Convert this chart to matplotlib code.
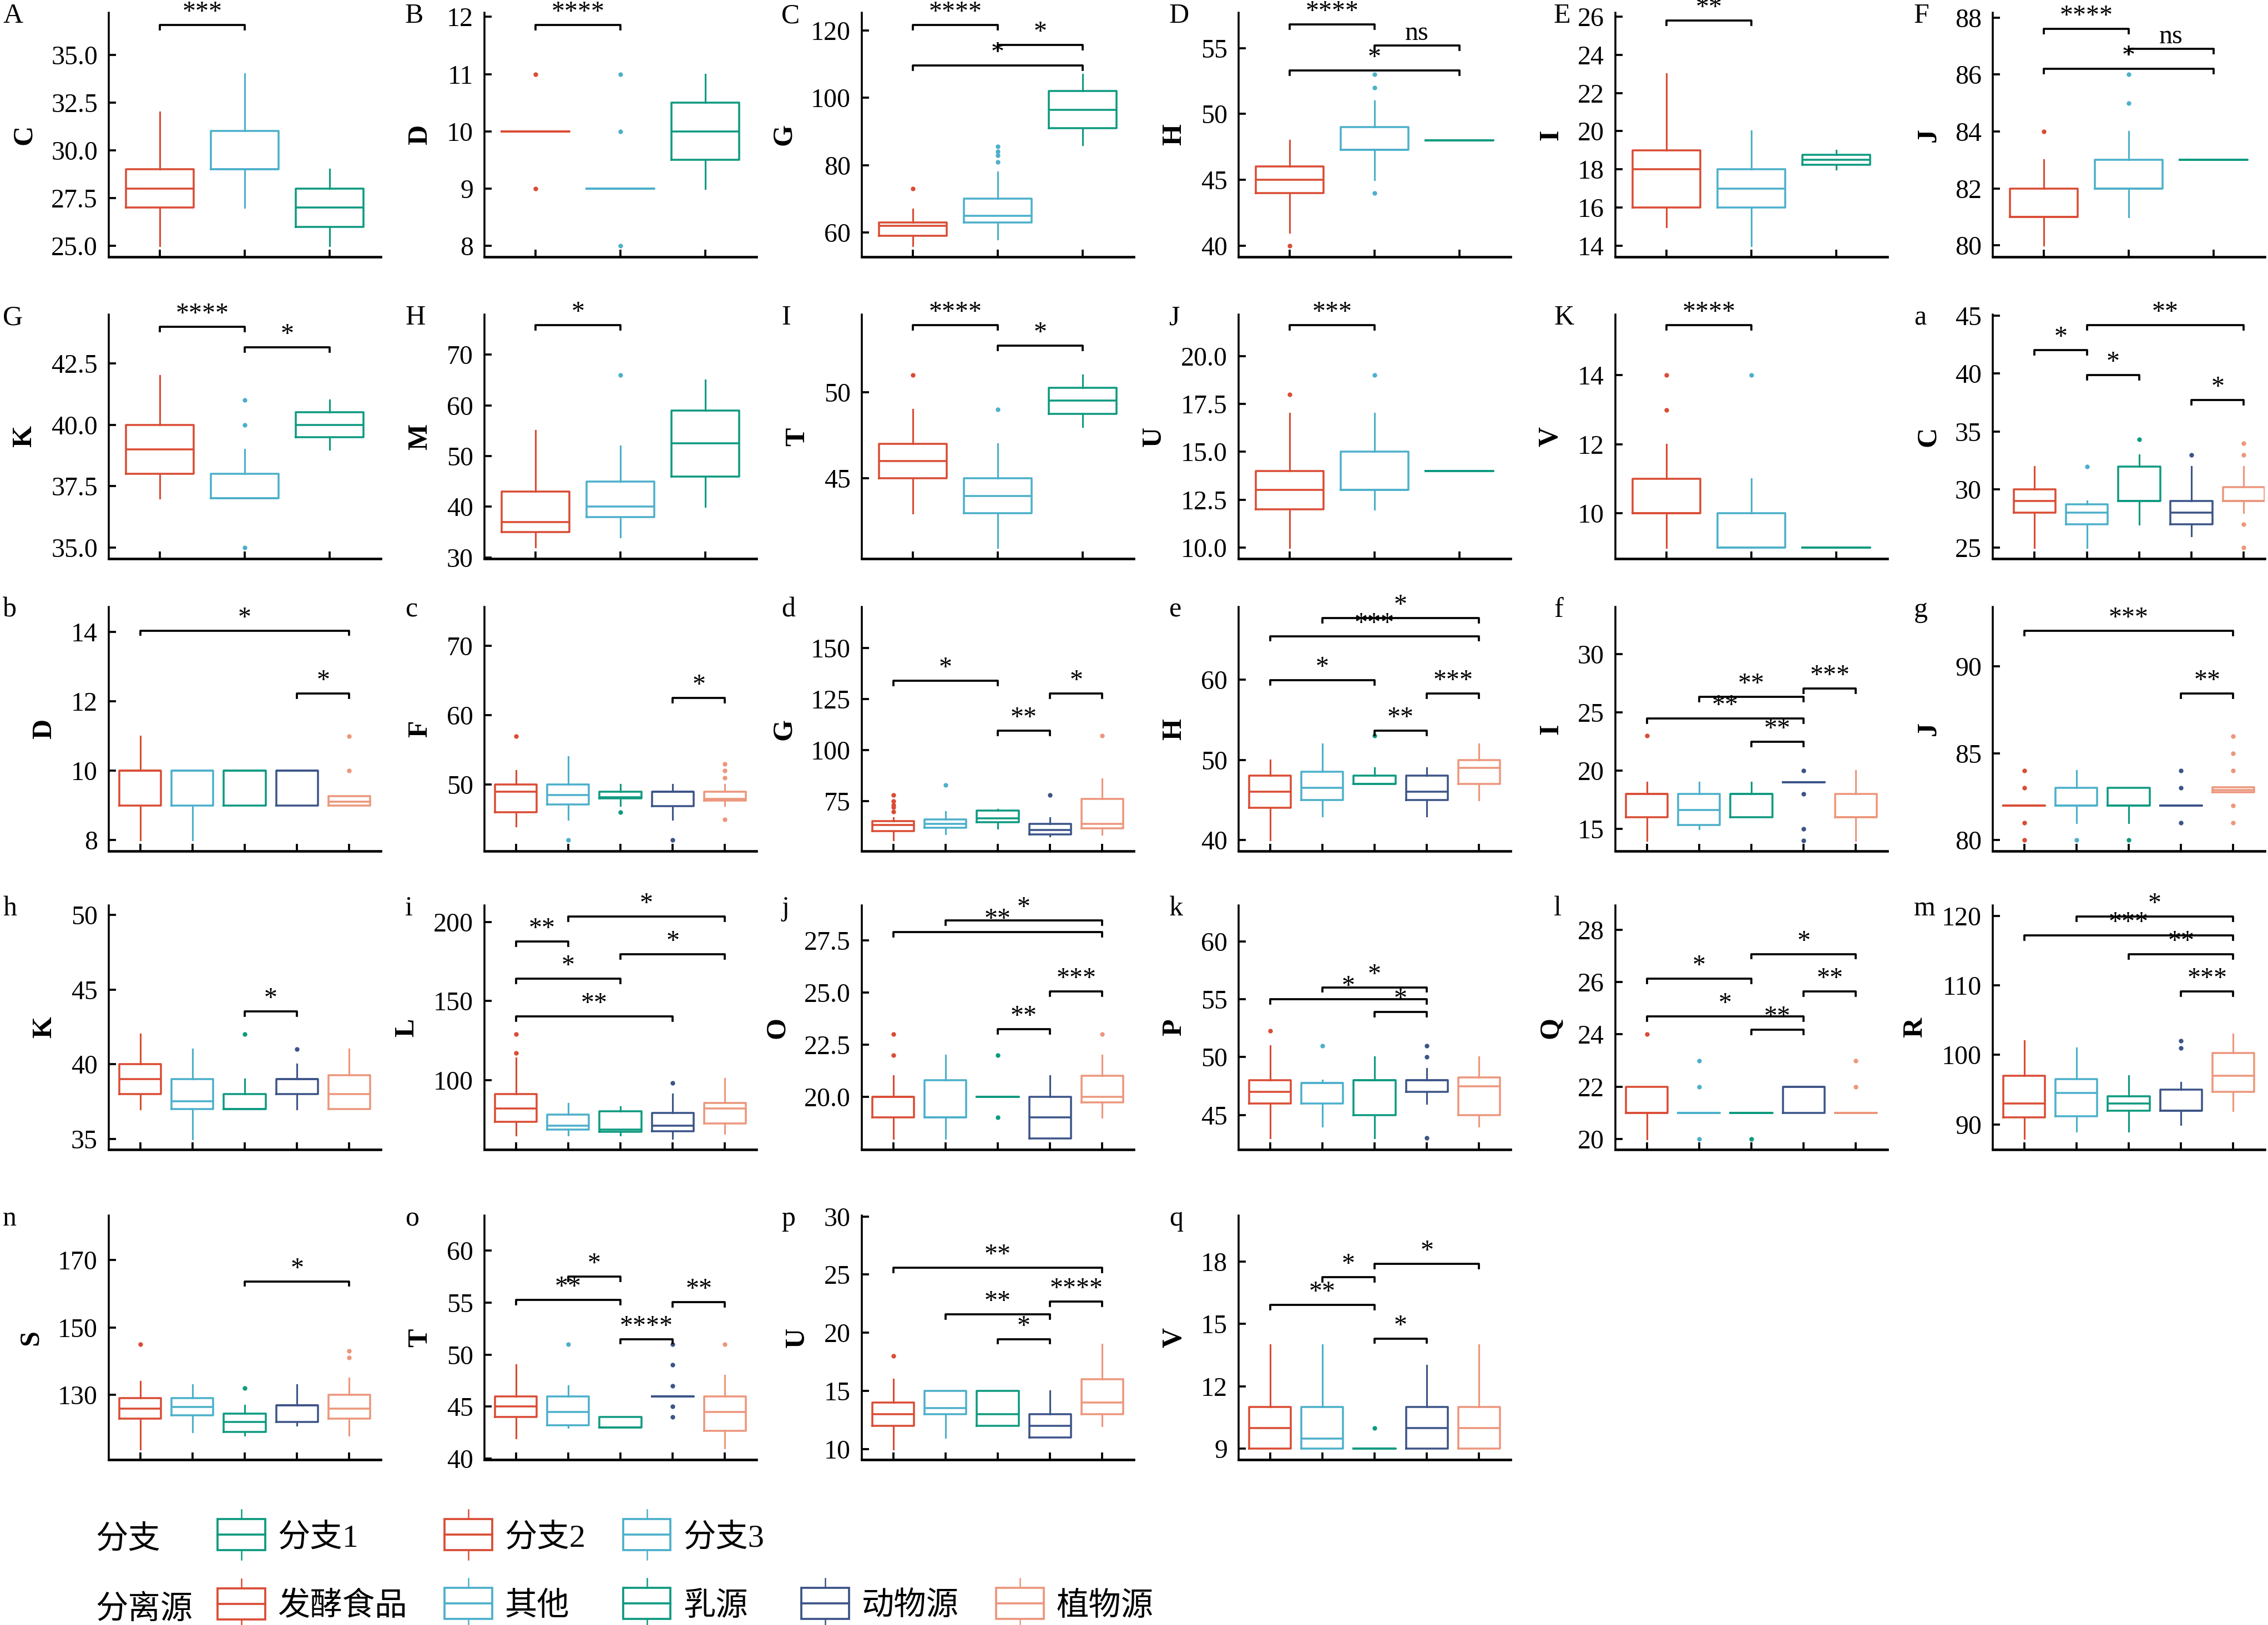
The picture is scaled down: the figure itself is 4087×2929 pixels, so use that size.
import matplotlib
matplotlib.use("Agg")
import matplotlib.pyplot as plt
from matplotlib.patches import Patch, Rectangle
from matplotlib.lines import Line2D
from matplotlib.legend_handler import HandlerBase

plt.rcParams['font.family'] = ['Liberation Serif', 'Noto Sans CJK SC']

# ====================== DATA ======================
# box stats per group: (whisker low, q1, median, q3, whisker high, [outliers])
# 3-group panels: 分支2, 分支3, 分支1 ; 5-group panels: 发酵食品, 其他, 乳源, 动物源, 植物源
box_A = [(25, 27, 28, 29, 32, []), (27, 29, 29, 31, 34, []), (25, 26, 27, 28, 29, [])]
box_B = [(10, 10, 10, 10, 10, [11, 9]), (9, 9, 9, 9, 9, [11, 10, 8]), (9, 9.5, 10, 10.5, 11, [])]
box_C = [(56, 59, 62, 63, 67, [73]), (58, 63, 65, 70, 78, [81, 83, 84, 85.5]), (86, 91, 96.5, 102, 107, [])]
box_D = [(41, 44, 45, 46, 48, [40]), (45, 47.3, 47.3, 49, 51, [44, 52, 53]), (48, 48, 48, 48, 48, [])]
box_E = [(15, 16, 18, 19, 23, []), (14, 16, 17, 18, 20, []), (18, 18.25, 18.5, 18.75, 19, [])]
box_F = [(80, 81, 81, 82, 83, [84]), (81, 82, 82, 83, 84, [85, 86]), (83, 83, 83, 83, 83, [])]
box_G = [(37, 38, 39, 40, 42, []), (37, 37, 37, 38, 39, [41, 40, 35]), (39, 39.5, 40, 40.5, 41, [])]
box_H = [(32, 35, 37, 43, 55, []), (34, 38, 40, 45, 52, [66]), (40, 46, 52.5, 59, 65, [])]
box_I = [(43, 45, 46, 47, 49, [51]), (41, 43, 44, 45, 47, [49]), (48, 48.75, 49.5, 50.25, 51, [])]
box_J = [(10, 12, 13, 14, 17, [18]), (12, 13, 13, 15, 17, [19]), (14, 14, 14, 14, 14, [])]
box_K = [(9, 10, 10, 11, 12, [13, 14]), (9, 9, 9, 10, 11, [14]), (9, 9, 9, 9, 9, [])]
box_a = [(25, 28, 29, 30, 32, []), (25, 27, 28, 28.75, 29, [32]), (27, 29, 29, 32, 33, [34.3]),
         (26, 27, 28, 29, 32, [33]), (28, 29, 29, 30.2, 32, [34, 33, 27, 25])]
box_b = [(8, 9, 10, 10, 11, []), (8, 9, 10, 10, 10, []), (9, 9, 10, 10, 10, []),
         (9, 9, 10, 10, 10, []), (9, 9, 9.1, 9.27, 9.27, [10, 11])]
box_c = [(44, 46, 49, 50, 52, [57]), (45, 47.15, 48.5, 50, 54, [42]), (47, 48, 48.2, 49, 50, [46]),
         (45, 46.9, 49, 49, 50, [42]), (47, 47.7, 47.9, 49, 50, [51, 52, 53, 45])]
box_d = [(56, 60.3, 63.3, 65.3, 67, [70, 72, 73, 75, 78]), (59, 62, 63.8, 66, 70, [83]),
         (61.7, 64.6, 66.5, 70.3, 71, []), (58, 58.8, 61, 64, 67, [78]),
         (58.8, 61.7, 63.8, 76, 86, [107])]
box_e = [(40, 44, 46, 48, 50, []), (43, 45, 46.5, 48.5, 52, []), (47, 47, 47, 48, 49, [53]),
         (43, 45, 46, 48, 49, []), (45, 47, 49, 50, 52, [])]
box_f = [(14, 16, 18, 18, 19, [23]), (15, 15.3, 16.6, 18, 19, []), (16, 16, 18, 18, 19, []),
         (19, 19, 19, 19, 19, [20, 18, 15, 14]), (14, 16, 16, 18, 20, [])]
box_g = [(82, 82, 82, 82, 82, [84, 83, 81, 80]), (81, 82, 82, 83, 84, [80]), (81, 82, 82, 83, 83, [80]),
         (82, 82, 82, 82, 82, [84, 83, 81]), (82.75, 82.75, 82.9, 83.05, 83.05, [86, 85, 84, 82, 81])]
box_h = [(37, 38, 39, 40, 42, []), (35, 37, 37.5, 39, 41, []), (37, 37, 37, 38, 39, [42]),
         (37, 38, 39, 39, 40, [41]), (37, 37, 38, 39.25, 41, [])]
box_i = [(65, 73.6, 82, 91, 114, [117, 129]), (65, 68.5, 71, 78, 85, []), (65, 67, 68.5, 80, 83, []),
         (63, 67.6, 71, 79, 91, [98]), (66, 72.4, 82, 85.3, 101, [])]
box_j = [(18, 19, 20, 20, 21, [22, 23]), (18, 19, 19, 20.8, 22, []), (20, 20, 20, 20, 20, [22, 19]),
         (18, 18, 19, 20, 21, []), (19, 19.73, 20, 21, 22, [23])]
box_k = [(43, 46, 47, 48, 51, [52.3]), (44, 46, 47.75, 47.75, 48, [51]), (43, 45, 48, 48, 50, []),
         (46, 47, 48, 48, 49, [50, 51, 43]), (44, 45, 47.5, 48.25, 50, [])]
box_l = [(20, 21, 21, 22, 22, [24]), (21, 21, 21, 21, 21, [23, 22, 20]), (21, 21, 21, 21, 21, [20]),
         (21, 21, 22, 22, 22, []), (21, 21, 21, 21, 21, [23, 22])]
box_m = [(88, 91, 93, 97, 102, []), (89, 91.2, 94.5, 96.5, 101, []), (89, 92, 93, 94, 97, []),
         (90, 92, 92, 95, 96, [101, 102]), (92, 94.7, 97, 100.3, 103, [])]
box_n = [(114, 123, 126, 129, 134, [145]), (119, 124, 126.5, 129, 133, []), (118, 119, 122, 124.5, 127, [132]),
         (121, 122, 127, 127, 133, []), (118, 123, 126, 130, 135, [141, 143])]
box_o = [(42, 44, 45, 46, 49, []), (43, 43.2, 44.5, 46, 47, [51]), (43, 43, 43, 44, 44, []),
         (46, 46, 46, 46, 46, [51, 49, 47, 45, 44]), (41, 42.7, 44.5, 46, 48, [51])]
box_p = [(10, 12, 13, 14, 16, [18]), (11, 13, 13.5, 15, 15, []), (12, 12, 13, 15, 15, []),
         (11, 11, 12, 13, 15, []), (12, 13, 14, 16, 19, [])]
box_q = [(9, 9, 10, 11, 14, []), (9, 9, 9.5, 11, 14, []), (9, 9, 9, 9, 9, [10]),
         (9, 9, 10, 11, 13, []), (9, 9, 10, 11, 14, [])]

# significance brackets: (group i, group j, bracket height, label)
sig_A = [(0, 1, 36.57, '***')]
sig_B = [(0, 1, 11.86, '****')]
sig_C = [(0, 1, 121.7, '****'), (1, 2, 115.7, '*'), (0, 2, 109.7, '*')]
sig_D = [(0, 1, 56.8, '****'), (1, 2, 55.2, 'ns'), (0, 2, 53.3, '*')]
sig_E = [(0, 1, 25.8, '**')]
sig_F = [(0, 1, 87.6, '****'), (1, 2, 86.9, 'ns'), (0, 2, 86.2, '*')]
sig_G = [(0, 1, 43.99, '****'), (1, 2, 43.15, '*')]
sig_H = [(0, 1, 75.8, '*')]
sig_I = [(0, 1, 53.9, '****'), (1, 2, 52.7, '*')]
sig_J = [(0, 1, 21.6, '***')]
sig_K = [(0, 1, 15.45, '****')]
sig_a = [(1, 4, 44.17, '**'), (0, 1, 42.0, '*'), (1, 2, 39.87, '*'), (3, 4, 37.7, '*')]
sig_b = [(0, 4, 14.04, '*'), (3, 4, 12.22, '*')]
sig_c = [(3, 4, 62.5, '*')]
sig_d = [(0, 2, 133.9, '*'), (3, 4, 127.6, '*'), (2, 3, 109.4, '**')]
sig_e = [(1, 4, 67.67, '*'), (0, 4, 65.4, '***'), (0, 2, 59.9, '*'), (3, 4, 58.25, '***'), (2, 3, 53.6, '**')]
sig_f = [(3, 4, 27.05, '***'), (1, 3, 26.35, '**'), (0, 3, 24.5, '**'), (2, 3, 22.5, '**')]
sig_g = [(0, 4, 92.06, '***'), (3, 4, 88.44, '**')]
sig_h = [(2, 3, 43.53, '*')]
sig_i = [(1, 4, 203.4, '*'), (0, 1, 187.6, '**'), (2, 4, 179.8, '*'), (0, 2, 164.1, '*'), (0, 3, 140.4, '**')]
sig_j = [(1, 4, 28.46, '*'), (0, 4, 27.89, '**'), (3, 4, 25.06, '***'), (2, 3, 23.25, '**')]
sig_k = [(1, 3, 56.05, '*'), (0, 3, 55.0, '*'), (2, 3, 53.9, '*')]
sig_l = [(2, 4, 27.08, '*'), (0, 2, 26.13, '*'), (3, 4, 25.64, '**'), (0, 3, 24.69, '*'), (2, 3, 24.18, '**')]
sig_m = [(1, 4, 119.9, '*'), (0, 4, 117.2, '***'), (2, 4, 114.5, '**'), (3, 4, 109.1, '***')]
sig_n = [(2, 4, 163.7, '*')]
sig_o = [(1, 2, 57.5, '*'), (0, 2, 55.25, '**'), (3, 4, 55.07, '**'), (2, 3, 51.5, '****')]
sig_p = [(0, 4, 25.6, '**'), (3, 4, 22.7, '****'), (1, 3, 21.6, '**'), (2, 3, 19.46, '*')]
sig_q = [(2, 4, 17.87, '*'), (1, 2, 17.25, '*'), (0, 2, 15.9, '**'), (2, 3, 14.3, '*')]

tags = ['A', 'B', 'C', 'D', 'E', 'F', 'G', 'H', 'I', 'J', 'K', 'a', 'b', 'c',
        'd', 'e', 'f', 'g', 'h', 'i', 'j', 'k', 'l', 'm', 'n', 'o', 'p', 'q']
ylabels = ['C', 'D', 'G', 'H', 'I', 'J', 'K', 'M', 'T', 'U', 'V', 'C', 'D', 'F',
           'G', 'H', 'I', 'J', 'K', 'L', 'O', 'P', 'Q', 'R', 'S', 'T', 'U', 'V']
ylims = [(24.42, 37.2), (7.81, 12.07), (52.75, 125.3), (39.16, 57.68), (13.42, 26.2), (79.6, 88.17),
         (34.55, 44.48), (29.75, 77.9), (40.35, 54.5), (9.42, 22.16), (8.68, 15.76), (24.04, 45.08),
         (7.68, 14.72), (40.43, 75.57), (50.6, 170.0), (38.64, 69.03), (13.08, 34.08), (79.37, 93.43),
         (34.28, 50.63), (55.9, 210.6), (17.46, 29.18), (42.0, 63.14), (19.59, 28.94), (86.37, 121.52),
         (110.8, 183.2), (39.9, 63.37), (9.08, 30.08), (8.48, 20.2)]
yticklabels = [
    ['25.0', '27.5', '30.0', '32.5', '35.0'], ['8', '9', '10', '11', '12'], ['60', '80', '100', '120'],
    ['40', '45', '50', '55'], ['14', '16', '18', '20', '22', '24', '26'], ['80', '82', '84', '86', '88'],
    ['35.0', '37.5', '40.0', '42.5'], ['30', '40', '50', '60', '70'], ['45', '50'],
    ['10.0', '12.5', '15.0', '17.5', '20.0'], ['10', '12', '14'], ['25', '30', '35', '40', '45'],
    ['8', '10', '12', '14'], ['50', '60', '70'], ['75', '100', '125', '150'], ['40', '50', '60'],
    ['15', '20', '25', '30'], ['80', '85', '90'], ['35', '40', '45', '50'], ['100', '150', '200'],
    ['20.0', '22.5', '25.0', '27.5'], ['45', '50', '55', '60'], ['20', '22', '24', '26', '28'],
    ['90', '100', '110', '120'], ['130', '150', '170'], ['40', '45', '50', '55', '60'],
    ['10', '15', '20', '25', '30'], ['9', '12', '15', '18']]

boxes = [box_A, box_B, box_C, box_D, box_E, box_F, box_G, box_H, box_I, box_J, box_K, box_a, box_b, box_c,
         box_d, box_e, box_f, box_g, box_h, box_i, box_j, box_k, box_l, box_m, box_n, box_o, box_p, box_q]
sigs = [sig_A, sig_B, sig_C, sig_D, sig_E, sig_F, sig_G, sig_H, sig_I, sig_J, sig_K, sig_a, sig_b, sig_c,
        sig_d, sig_e, sig_f, sig_g, sig_h, sig_i, sig_j, sig_k, sig_l, sig_m, sig_n, sig_o, sig_p, sig_q]

branch_names = ['分支1', '分支2', '分支3']
source_names = ['发酵食品', '其他', '乳源', '动物源', '植物源']
# ==================================================

RED, BLUE, GREEN, NAVY, SALMON = '#DA4C35', '#4DB0CB', '#0E9A80', '#3C5488', '#EC977D'
branch_plot_colors = [RED, BLUE, GREEN]          # plotting order 分支2, 分支3, 分支1
branch_legend_colors = [GREEN, RED, BLUE]        # legend order 分支1, 分支2, 分支3
source_colors = [RED, BLUE, GREEN, NAVY, SALMON]

W, H = 4087, 2929
fig = plt.figure(figsize=(W / 300, H / 300), dpi=300)

col_left = [196, 873, 1553, 2232, 2911, 3591]
row_top = [23, 567, 1094, 1632, 2191]
tag_x = [5, 730, 1408, 2107, 2800, 3449]
ax_w, ax_h = 490, 440

for k, tag in enumerate(tags):
    r, c = divmod(k, 6)
    ax = fig.add_axes([col_left[c] / W, 1 - (row_top[r] + ax_h) / H, ax_w / W, ax_h / H])
    stats = boxes[k]
    n = len(stats)
    cols = branch_plot_colors if n == 3 else source_colors
    for i, (s, col) in enumerate(zip(stats, cols)):
        lo, q1, med, q3, hi, fl = s
        ax.bxp([dict(whislo=lo, q1=q1, med=med, q3=q3, whishi=hi, fliers=fl)],
               positions=[i], widths=0.8, showcaps=False, manage_ticks=False,
               boxprops=dict(color=col, lw=0.85),
               medianprops=dict(color=col, lw=0.85),
               whiskerprops=dict(color=col, lw=0.75),
               flierprops=dict(marker='o', markersize=2.0, markerfacecolor=col,
                               markeredgecolor='none', linestyle='none'))

    y0, y1 = ylims[k]
    tip = 0.018 * (y1 - y0)
    for i, j, y, lab in sigs[k]:
        ax.plot([i, i, j, j], [y - tip, y, y, y - tip], color='black', lw=0.9, clip_on=False)
        ax.text((i + j) / 2, y, lab, ha='center', va='bottom', fontsize=11.5)

    ax.set_ylim(y0, y1)
    if tag == 'a':
        ax.set_xlim(-0.8, 4.4)
    else:
        ax.set_xlim(-0.6, n - 0.4)
    ax.set_xticks(range(n))
    ax.set_yticks([float(t) for t in yticklabels[k]])
    ax.set_yticklabels(yticklabels[k])
    ax.tick_params(axis='x', direction='in', length=3.1, width=0.9, labelbottom=False)
    ax.tick_params(axis='y', direction='in', length=3, width=0.9, pad=4.8, labelsize=11.5)
    for side in ['top', 'right']:
        ax.spines[side].set_visible(False)
    ax.spines['left'].set_linewidth(0.85)
    ax.spines['bottom'].set_linewidth(1.1)
    ax.set_ylabel(ylabels[k], fontsize=12, fontweight='bold', labelpad=6)
    fig.text(tag_x[c] / W, 1 - (row_top[r] + 18) / H, tag, ha='left', va='baseline', fontsize=12)


class BoxKey(HandlerBase):
    def create_artists(self, legend, orig_handle, xdescent, ydescent, width, height, fontsize, trans):
        col = orig_handle.get_edgecolor()
        x0 = -xdescent
        xm = x0 + width / 2
        ym = -ydescent + height / 2
        bh, wh = 6.7, 10.8
        box = Rectangle((x0, ym - bh), width, 2 * bh, fill=False, edgecolor=col, lw=0.9, transform=trans)
        med = Line2D([x0, x0 + width], [ym, ym], color=col, lw=0.9, transform=trans)
        up = Line2D([xm, xm], [ym + bh, ym + wh], color=col, lw=0.6, transform=trans)
        dn = Line2D([xm, xm], [ym - bh, ym - wh], color=col, lw=0.6, transform=trans)
        return [box, med, up, dn]


def blank():
    return Line2D([], [], linestyle='none')


top_handles = [Patch(edgecolor=cl, facecolor='none') for cl in branch_legend_colors]
bot_handles = [Patch(edgecolor=cl, facecolor='none') for cl in source_colors]
handles, labels = [], []
for idx in range(5):
    if idx < 3:
        handles.append(top_handles[idx])
        labels.append(branch_names[idx])
    else:
        handles.append(blank())
        labels.append('')
    handles.append(bot_handles[idx])
    labels.append(source_names[idx])

fig.legend(handles, labels, ncol=5, loc='upper left', bbox_to_anchor=(392 / W, 1 - 2745 / H),
           frameon=False, borderpad=0, borderaxespad=0, handlelength=1.47, handletextpad=0.39,
           columnspacing=1.15, labelspacing=1.2, fontsize=14, handler_map={Patch: BoxKey()})
fig.text(172 / W, 1 - 2775 / H, '分支', ha='left', va='center', fontsize=14)
fig.text(172 / W, 1 - 2901 / H, '分离源', ha='left', va='center', fontsize=14)

fig.savefig('out.png', dpi=300)
